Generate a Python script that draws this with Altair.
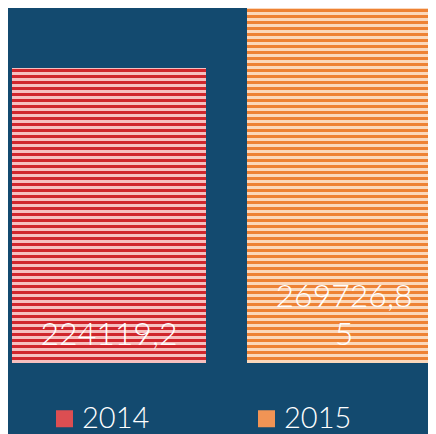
import altair as alt
import pandas as pd

# ---- data ----
years = ["2014", "2015"]
values = [224119.2, 269726.85]

# ---- styling ----
BG = "#134a6f"
stripe_dark = ["#d0262c", "#ee8234"]
stripe_light = ["#f6c0bf", "#fbd8bb"]
legend_fill = ["#dc4e52", "#f19455"]
FONT = "Lato"

PLOT_W = 420
PLOT_H = 355
LINE_H = 38


def fmt(v):
    return f"{v:.2f}".rstrip("0").rstrip(".").replace(".", ",")


def wrap(s, n=8):
    return [s[i:i + n] for i in range(0, len(s), n)]


df = pd.DataFrame({"year": years, "value": values})

# one row per label line; j counts lines from the bottom
rows = []
for yr, v in zip(years, values):
    lines = wrap(fmt(v))
    for k, line in enumerate(lines):
        rows.append({"year": yr, "line": line, "j": len(lines) - 1 - k})
lab_df = pd.DataFrame(rows)

vmax = max(values)


def stripes(h, dark, light, band=3, lead=1):
    segs = [(0, lead, light)]
    k = 0
    y0 = lead
    while y0 < h:
        y1 = min(y0 + band, h)
        segs.append((y0, y1, dark if k % 2 == 0 else light))
        y0 = y1
        k += 1
    stops = []
    for a, b, c in segs:
        stops.append(alt.GradientStop(offset=a / h, color=c))
        stops.append(alt.GradientStop(offset=b / h, color=c))
    return alt.LinearGradient(gradient="linear", stops=stops, x1=0, x2=0, y1=0, y2=1)


x_enc = alt.X("year:N", axis=None,
              scale=alt.Scale(domain=years, range=[0, 437], paddingInner=0.1745, paddingOuter=0.017))
y_enc = alt.Y("value:Q", axis=None, scale=alt.Scale(domain=[0, vmax], nice=False))

base = alt.Chart(df)

legend_bars = base.mark_bar().encode(
    x=x_enc,
    y=y_enc,
    color=alt.Color(
        "year:N",
        scale=alt.Scale(domain=years, range=legend_fill),
        legend=alt.Legend(
            title=None, orient="none", legendX=42, legendY=396,
            direction="horizontal", symbolType="square", symbolSize=289,
            symbolStrokeWidth=0, symbolOpacity=1,
            labelFontSize=29, labelFont=FONT, labelFontWeight=300,
            labelColor="white", labelOffset=3, columnPadding=102,
        ),
    ),
)

layers = [legend_bars]
for i, yr in enumerate(years):
    h = values[i] / vmax * PLOT_H
    layers.append(
        base.transform_filter(alt.datum.year == yr)
        .mark_bar(fill=stripes(h, stripe_dark[i], stripe_light[i]))
        .encode(x=x_enc, y=y_enc)
    )

max_lines = int(lab_df["j"].max()) + 1
for j in range(max_lines):
    layers.append(
        alt.Chart(lab_df)
        .transform_filter(alt.datum.j == j)
        .mark_text(color="white", font=FONT, fontSize=32, fontWeight=300,
                   baseline="alphabetic", dy=-18 - LINE_H * j)
        .encode(x=x_enc, y=alt.datum(0), text="line:N")
    )

chart = alt.layer(*layers).properties(
    width=PLOT_W,
    height=PLOT_H,
    autosize=alt.AutoSizeParams(type="none"),
    padding={"left": 0, "right": 0, "top": 0, "bottom": 71},
    background=BG,
).configure_view(stroke=None)

chart.save("out.html", embed_options={"renderer": "svg", "actions": False})
